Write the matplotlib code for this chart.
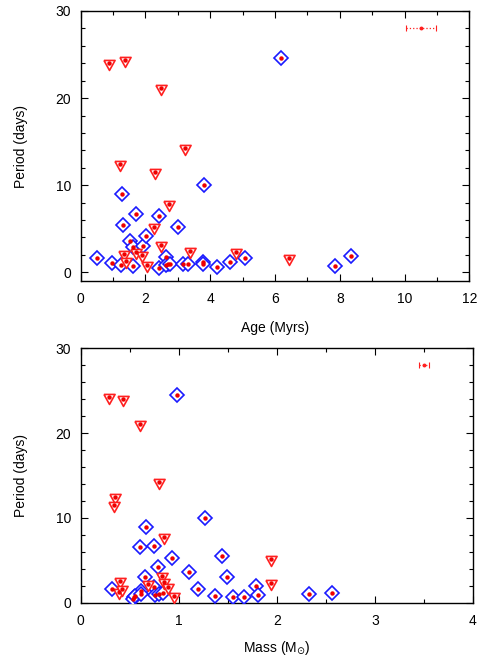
import matplotlib
matplotlib.use("Agg")
import matplotlib.pyplot as plt
from matplotlib.ticker import MultipleLocator

plt.rcParams["font.family"] = ["Liberation Sans", "DejaVu Sans"]
plt.rcParams["font.size"] = 10

# ── rotation periods vs. age (Myr) ─────────────────────────────────────────
age_det = [0.51, 0.96, 1.23, 1.27, 1.30, 1.51, 1.60, 1.63, 1.70, 1.92,
           2.03, 2.42, 2.42, 2.64, 2.69, 2.63, 2.75, 2.99, 3.15, 3.31,
           3.79, 3.79, 3.82, 4.21, 4.61, 5.06, 6.19, 7.84, 8.34]
per_age_det = [1.61, 1.11, 0.84, 8.96, 5.47, 3.56, 2.95, 0.73, 6.66, 3.06,
               4.13, 0.46, 6.51, 1.80, 0.92, 0.80, 0.96, 5.24, 0.92, 1.00,
               1.22, 0.92, 10.06, 0.65, 1.15, 1.61, 24.57, 0.69, 1.91]

age_lim = [0.86, 1.37, 1.21, 1.35, 1.41, 1.71, 1.89, 2.04, 2.31, 2.27,
           2.47, 2.49, 2.73, 3.23, 3.38, 4.81, 6.42]
per_age_lim = [24.07, 24.38, 12.48, 2.10, 1.30, 2.30, 1.95, 0.84, 11.48, 5.17,
               21.13, 3.10, 7.81, 14.27, 2.49, 2.33, 1.61]

# ── rotation periods vs. mass (Msun) ───────────────────────────────────────
mass_det = [0.98, 1.27, 0.67, 0.60, 0.75, 0.93, 1.44, 0.79, 1.10, 0.66,
            1.49, 0.32, 0.62, 0.75, 1.20, 1.79, 1.81, 1.37, 1.55, 1.67,
            2.33, 2.56, 0.54, 0.53, 0.76, 0.80, 0.84, 0.55, 0.62]
per_mass_det = [24.51, 10.0, 8.94, 6.55, 6.63, 5.22, 5.49, 4.16, 3.57, 3.06,
                3.02, 1.61, 1.37, 1.84, 1.65, 1.96, 0.90, 0.78, 0.71, 0.71,
                0.98, 1.14, 0.71, 0.40, 0.90, 0.98, 1.14, 0.80, 1.05]

mass_lim = [0.29, 0.43, 0.60, 0.80, 0.35, 0.34, 0.85, 1.94, 1.94, 0.40,
            0.39, 0.42, 0.69, 0.83, 0.85, 0.89, 0.95]
per_mass_lim = [24.31, 23.96, 21.1, 14.2, 12.47, 11.49, 7.76, 5.18, 2.27, 2.55,
                1.29, 1.57, 2.20, 3.14, 2.47, 1.88, 0.82]

# typical uncertainty shown in the corner
age_err_x, age_err_y, age_err = 10.5, 28.0, 0.47
mass_err_x, mass_err_y, mass_err = 3.5, 28.0, 0.05

# down-pointing triangle whose anchor sits in the upper part (upper limits)
LIMIT_MARKER = [(-1.0, 0.55), (1.0, 0.55), (0.0, -1.25), (-1.0, 0.55)]


def draw_panel(ax, xd, yd, xl, yl, ex, ey, exerr):
    ax.plot(xd, yd, ls="none", marker="D", ms=7.3, mfc="white",
            mec="#1a1aff", mew=1.2, zorder=3)
    ax.plot(xl, yl, ls="none", marker=LIMIT_MARKER, ms=10, mfc="white",
            mec="#ff2020", mew=1.2, zorder=3)
    ax.plot(xd + xl, yd + yl, ls="none", marker="o", ms=3.2,
            mfc="#ee0000", mec="none", zorder=4)
    ax.errorbar([ex], [ey], xerr=[exerr], fmt="o", ms=1.8, color="#ff2020",
                ecolor="#ff2020", elinewidth=0.9, capsize=2, capthick=0.8,
                ls="none", zorder=4)[2][0].set_linestyle(":")
    ax.tick_params(which="both", direction="in", top=True, right=True,
                   labelsize=10)
    ax.tick_params(axis="x", pad=8)
    ax.tick_params(axis="y", pad=7)
    ax.tick_params(which="major", length=5, width=0.8)
    ax.tick_params(which="minor", length=3, width=0.8)
    for s in ax.spines.values():
        s.set_linewidth(1.0)
    ax.set_ylabel("Period (days)", labelpad=20)


fig = plt.figure(figsize=(4.82, 6.62), dpi=100)

ax1 = fig.add_axes([0.1674, 0.5755, 0.8063, 0.4079])
draw_panel(ax1, age_det, per_age_det, age_lim, per_age_lim,
           age_err_x, age_err_y, age_err)
ax1.set_xlim(0, 12)
ax1.set_ylim(-1, 30)
ax1.xaxis.set_major_locator(MultipleLocator(2))
ax1.xaxis.set_minor_locator(MultipleLocator(1))
ax1.yaxis.set_major_locator(MultipleLocator(10))
ax1.yaxis.set_minor_locator(MultipleLocator(2))
ax1.set_xlabel("Age (Myrs)", labelpad=11)

ax2 = fig.add_axes([0.1674, 0.0897, 0.8139, 0.3842])
draw_panel(ax2, mass_det, per_mass_det, mass_lim, per_mass_lim,
           mass_err_x, mass_err_y, mass_err)
ax2.set_xlim(0, 4)
ax2.set_ylim(0, 30)
ax2.xaxis.set_major_locator(MultipleLocator(1))
ax2.xaxis.set_minor_locator(MultipleLocator(0.5))
ax2.yaxis.set_major_locator(MultipleLocator(10))
ax2.yaxis.set_minor_locator(MultipleLocator(2))
ax2.set_xlabel(r"Mass (M$_{\odot}$)", labelpad=8)

fig.savefig("out.png", dpi=100)
